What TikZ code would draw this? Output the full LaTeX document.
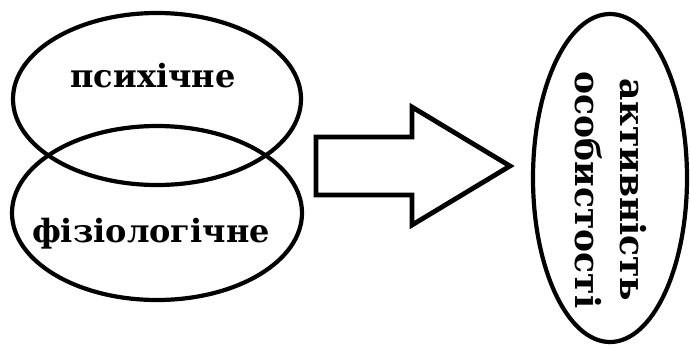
\documentclass[tikz,border=0pt]{standalone}
\usepackage{fontspec}
\setmainfont{DejaVu Serif}
\begin{document}
\begin{tikzpicture}[x=1pt,y=-1pt,
  outline/.style={draw=black,line width=4.2pt},
  label/.style={font=\fontsize{32}{36}\selectfont\bfseries,inner sep=0pt}]
\useasboundingbox[fill=white] (0,0) rectangle (690,349);
\draw[outline] (157,99) ellipse [x radius=144, y radius=86];
\draw[outline] (157,213) ellipse [x radius=145, y radius=87];
\draw[outline,line width=4.8pt,line join=miter] (316,137) -- (412,137) -- (412,107) -- (510,166) -- (412,225) -- (412,195) -- (316,195) -- cycle;
\draw[outline] (610,178) ellipse [x radius=77, y radius=164];
\node[label,anchor=base] (psy) at (153,87) {психічне};
\node[label,anchor=base] (fiz) at (151,242) {фізіологічне};
\node[label,rotate=-90,align=center,font=\fontsize{34.5}{45}\selectfont\bfseries] (akt) at (611,190) {активність\\особистості};
\end{tikzpicture}
\end{document}
